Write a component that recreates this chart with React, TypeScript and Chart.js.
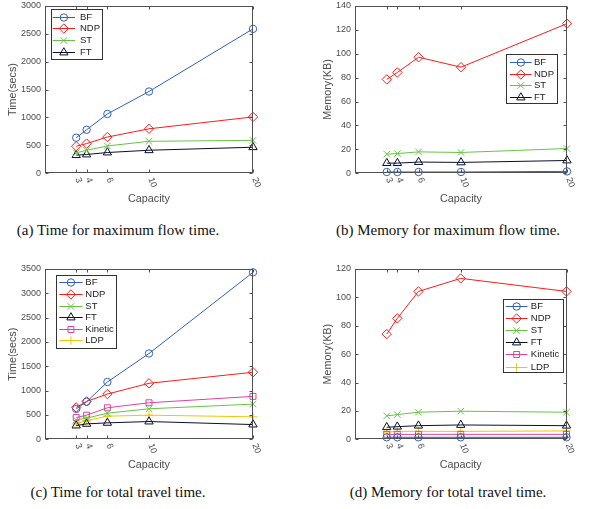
import React, { useEffect, useRef } from 'react';
import { Chart, registerables } from 'chart.js';

Chart.register(...registerables);

// ---------- data ----------
const capacity = [3, 4, 6, 10, 20];
const xTickLabels = ['3', '4', '6', '10', '20'];

// (a) Time for maximum flow time
const aBF = [638, 780, 1063, 1465, 2587];
const aNDP = [484, 532, 650, 797, 1010];
const aST = [366, 413, 490, 573, 590];
const aFT = [325, 337, 372, 413, 467];

// (b) Memory for maximum flow time
const bBF = [1.1, 1.1, 1.1, 1.1, 1.6];
const bNDP = [78.5, 84.3, 97, 88.7, 125.1];
const bST = [16, 16.5, 17.9, 17.4, 20.7];
const bFT = [8.5, 8.5, 9.4, 9.1, 10.7];

// (c) Time for total travel time
const cBF = [625, 772, 1178, 1764, 3431];
const cNDP = [655, 779, 930, 1151, 1378];
const cST = [400, 434, 537, 627, 723];
const cFT = [282, 317, 338, 365, 303];
const cKinetic = [448, 496, 648, 751, 882];
const cLDP = [317, 386, 475, 496, 462];

// (d) Memory for total travel time
const dBF = [1.4, 1.4, 1.4, 1.4, 1.4];
const dNDP = [74.1, 85.2, 104.2, 113.4, 104.2];
const dST = [16.5, 17.4, 19.1, 19.8, 19.1];
const dFT = [8.5, 8.9, 9.6, 10.1, 9.6];
const dKinetic = [3.5, 3.5, 3.5, 3.5, 3.5];
const dLDP = [5.2, 5.6, 5.6, 5.6, 5.9];

const captions = [
  '(a) Time for maximum flow time.',
  '(b) Memory for maximum flow time.',
  '(c) Time for total travel time.',
  '(d) Memory for total travel time.',
];

// ---------- styles ----------
const SANS = '"Liberation Sans", Arial, Helvetica, sans-serif';
const STYLE: Record<string, { color: string; style: string; r: number }> = {
  BF: { color: '#3060C0', style: 'circle', r: 3.7 },
  NDP: { color: '#FF1A1A', style: 'rectRot', r: 4.7 },
  ST: { color: '#66C444', style: 'crossRot', r: 4.6 },
  FT: { color: '#0A0F2D', style: 'triangle', r: 4.8 },
  Kinetic: { color: '#E040A0', style: 'rect', r: 4.2 },
  LDP: { color: '#F5C400', style: 'cross', r: 4.2 },
};
const FRAME = '#505050';
const TEXT = '#4D4D4D';

type Series = { name: string; values: number[] };
type Legend = { x?: number; right?: number; y: number; w: number; h: number; first: number; step: number; lineOff: number; lineLen: number; textOff: number };
type PanelCfg = {
  series: Series[];
  yMax: number;
  yStep: number;
  yTitle: string;
  width: number;
  height: number;
  padTop: number;
  padRight: number;
  yAxisW: number;
  xAxisH: number;
  yTitlePad: number;
  xTitlePad: number;
  legend: Legend;
};

function drawMarker(ctx: CanvasRenderingContext2D, style: string, x: number, y: number, r: number) {
  ctx.beginPath();
  if (style === 'circle') {
    ctx.arc(x, y, r, 0, Math.PI * 2);
  } else if (style === 'rectRot') {
    ctx.moveTo(x, y - r); ctx.lineTo(x + r, y); ctx.lineTo(x, y + r); ctx.lineTo(x - r, y); ctx.closePath();
  } else if (style === 'crossRot') {
    const d = r * Math.SQRT1_2;
    ctx.moveTo(x - d, y - d); ctx.lineTo(x + d, y + d); ctx.moveTo(x + d, y - d); ctx.lineTo(x - d, y + d);
  } else if (style === 'triangle') {
    ctx.moveTo(x, y - r);
    ctx.lineTo(x + r * Math.sin((2 * Math.PI) / 3), y - r * Math.cos((2 * Math.PI) / 3));
    ctx.lineTo(x + r * Math.sin((4 * Math.PI) / 3), y - r * Math.cos((4 * Math.PI) / 3));
    ctx.closePath();
  } else if (style === 'rect') {
    const d = r * Math.SQRT1_2;
    ctx.rect(x - d, y - d, 2 * d, 2 * d);
  } else if (style === 'cross') {
    ctx.moveTo(x, y - r); ctx.lineTo(x, y + r); ctx.moveTo(x - r, y); ctx.lineTo(x + r, y);
  }
  ctx.stroke();
}

function makeDecor(cfg: PanelCfg) {
  return {
    id: 'matlabDecor',
    afterDraw(chart: any) {
      const ctx: CanvasRenderingContext2D = chart.ctx;
      const { left, top, right, bottom } = chart.chartArea;
      const L = Math.round(left) + 0.5, T = Math.round(top) + 0.5, R = Math.round(right) - 0.5, B = Math.round(bottom) - 0.5;
      ctx.save();
      ctx.strokeStyle = FRAME;
      ctx.lineWidth = 1;
      ctx.strokeRect(L, T, R - L, B - T);
      // y ticks (inward, both sides)
      ctx.beginPath();
      for (const t of chart.scales.y.ticks) {
        const py = Math.round(chart.scales.y.getPixelForValue(t.value)) + 0.5;
        ctx.moveTo(L, py); ctx.lineTo(L + 3, py);
        ctx.moveTo(R, py); ctx.lineTo(R - 3, py);
      }
      // x ticks
      for (const v of capacity) {
        const px = Math.round(chart.scales.x.getPixelForValue(v)) + 0.5;
        ctx.moveTo(px, B); ctx.lineTo(px, B - 3);
        ctx.moveTo(px, T); ctx.lineTo(px, T + 3);
      }
      ctx.stroke();
      // rotated x tick labels
      ctx.fillStyle = TEXT;
      ctx.font = `9px ${SANS}`;
      ctx.textAlign = 'left';
      ctx.textBaseline = 'middle';
      capacity.forEach((v, i) => {
        const px = chart.scales.x.getPixelForValue(v);
        ctx.save();
        ctx.translate(px + 1.5, bottom + 4.5);
        ctx.rotate((70 * Math.PI) / 180);
        ctx.fillText(xTickLabels[i], 0, 0);
        ctx.restore();
      });
      // legend
      const lg = cfg.legend;
      const lx = lg.right !== undefined ? right - lg.right - lg.w : left + (lg.x || 0);
      const ly = top + lg.y;
      ctx.fillStyle = '#FFFFFF';
      ctx.fillRect(Math.round(lx) + 0.5, Math.round(ly) + 0.5, Math.round(lg.w), Math.round(lg.h));
      ctx.strokeStyle = '#333333';
      ctx.strokeRect(Math.round(lx) + 0.5, Math.round(ly) + 0.5, Math.round(lg.w), Math.round(lg.h));
      ctx.font = `9.5px ${SANS}`;
      ctx.textBaseline = 'middle';
      cfg.series.forEach((s, i) => {
        const st = STYLE[s.name];
        const yy = Math.round(ly + lg.first + i * lg.step) + 0.5;
        const x1 = lx + lg.lineOff, x2 = x1 + lg.lineLen;
        ctx.strokeStyle = st.color;
        ctx.lineWidth = 1;
        ctx.beginPath();
        ctx.moveTo(x1, yy); ctx.lineTo(x2, yy);
        ctx.stroke();
        drawMarker(ctx, st.style, (x1 + x2) / 2, yy, st.r);
        ctx.fillStyle = '#222222';
        ctx.fillText(s.name, lx + lg.textOff, yy);
      });
      ctx.restore();
    },
  };
}

function Panel({ cfg }: { cfg: PanelCfg }) {
  const ref = useRef<HTMLCanvasElement>(null);
  useEffect(() => {
    if (!ref.current) return;
    const titleFont = { family: SANS, size: 10.8 };
    const chart = new Chart(ref.current, {
      type: 'line',
      data: {
        datasets: cfg.series.map((s) => ({
          label: s.name,
          data: s.values.map((v, i) => ({ x: capacity[i], y: v })),
          borderColor: STYLE[s.name].color,
          backgroundColor: 'rgba(0,0,0,0)',
          pointBackgroundColor: 'rgba(0,0,0,0)',
          pointBorderColor: STYLE[s.name].color,
          pointStyle: STYLE[s.name].style as any,
          pointRadius: STYLE[s.name].r,
          pointBorderWidth: 1,
          borderWidth: 1,
          tension: 0,
          clip: false as any,
        })),
      },
      options: {
        responsive: false,
        animation: false,
        maintainAspectRatio: false,
        events: [],
        layout: { padding: { left: 0, top: cfg.padTop, right: cfg.padRight, bottom: 0 } },
        plugins: { legend: { display: false }, tooltip: { enabled: false } },
        scales: {
          x: {
            type: 'linear',
            min: 0,
            max: 20,
            grid: { display: false, drawTicks: false },
            border: { display: false },
            ticks: { display: false },
            title: { display: true, text: 'Capacity', color: TEXT, font: titleFont, padding: { top: 0, bottom: cfg.xTitlePad } },
            afterFit: (s: any) => { s.height = cfg.xAxisH; s.paddingLeft = 0; s.paddingRight = 0; },
          },
          y: {
            type: 'linear',
            min: 0,
            max: cfg.yMax,
            grid: { display: false, drawTicks: false },
            border: { display: false },
            ticks: {
              stepSize: cfg.yStep,
              color: TEXT,
              font: { family: SANS, size: 9 },
              padding: 4,
              callback: (v: any) => String(v),
            },
            title: { display: true, text: cfg.yTitle, color: TEXT, font: titleFont, padding: { top: cfg.yTitlePad, bottom: 0 } },
            afterFit: (s: any) => { s.width = cfg.yAxisW; s.paddingTop = 0; s.paddingBottom = 0; },
          },
        },
      },
      plugins: [makeDecor(cfg)],
    } as any);
    return () => chart.destroy();
  }, [cfg]);
  return <canvas ref={ref} width={cfg.width} height={cfg.height} style={{ width: cfg.width, height: cfg.height, display: 'block' }} />;
}

const panelA: PanelCfg = {
  series: [
    { name: 'BF', values: aBF }, { name: 'NDP', values: aNDP }, { name: 'ST', values: aST }, { name: 'FT', values: aFT },
  ],
  yMax: 3000, yStep: 500, yTitle: 'Time(secs)',
  width: 297, height: 210, padTop: 4, padRight: 44, yAxisW: 45, xAxisH: 36.7, yTitlePad: 6.8, xTitlePad: 4.2,
  legend: { x: 5.7, y: 3.3, w: 51, h: 50, first: 7.7, step: 11.6, lineOff: 2, lineLen: 22.3, textOff: 29.3 },
};
const panelB: PanelCfg = {
  series: [
    { name: 'BF', values: bBF }, { name: 'NDP', values: bNDP }, { name: 'ST', values: bST }, { name: 'FT', values: bFT },
  ],
  yMax: 140, yStep: 20, yTitle: 'Memory(KB)',
  width: 297, height: 210, padTop: 4, padRight: 27, yAxisW: 58, xAxisH: 36.7, yTitlePad: 24.2, xTitlePad: 4.2,
  legend: { right: 10, y: 48.3, w: 51, h: 49.4, first: 8.2, step: 11.5, lineOff: 4, lineLen: 21.7, textOff: 28 },
};
const panelC: PanelCfg = {
  series: [
    { name: 'BF', values: cBF }, { name: 'NDP', values: cNDP }, { name: 'ST', values: cST },
    { name: 'FT', values: cFT }, { name: 'Kinetic', values: cKinetic }, { name: 'LDP', values: cLDP },
  ],
  yMax: 3500, yStep: 500, yTitle: 'Time(secs)',
  width: 297, height: 230, padTop: 19, padRight: 44, yAxisW: 45, xAxisH: 40.7, yTitlePad: 6.8, xTitlePad: 8,
  legend: { x: 11, y: 6, w: 60, h: 73.3, first: 7.3, step: 11.6, lineOff: 3.3, lineLen: 23.3, textOff: 29.3 },
};
const panelD: PanelCfg = {
  series: [
    { name: 'BF', values: dBF }, { name: 'NDP', values: dNDP }, { name: 'ST', values: dST },
    { name: 'FT', values: dFT }, { name: 'Kinetic', values: dKinetic }, { name: 'LDP', values: dLDP },
  ],
  yMax: 120, yStep: 20, yTitle: 'Memory(KB)',
  width: 297, height: 230, padTop: 19, padRight: 27.5, yAxisW: 58, xAxisH: 40.7, yTitlePad: 24.2, xTitlePad: 8,
  legend: { right: 4, y: 30.3, w: 60, h: 73, first: 6.7, step: 12.1, lineOff: 3.3, lineLen: 21.7, textOff: 28.3 },
};

const captionStyle: React.CSSProperties = {
  position: 'absolute',
  width: 300,
  textAlign: 'center',
  fontFamily: '"Liberation Serif", "Times New Roman", serif',
  fontSize: 15,
  color: '#111',
  whiteSpace: 'nowrap',
};

export default function App() {
  return (
    <div style={{ position: 'absolute', left: 0, top: 0, width: 594, height: 509, background: '#fff', overflow: 'hidden' }}>
      <div style={{ position: 'absolute', left: 0, top: 0 }}><Panel cfg={panelA} /></div>
      <div style={{ position: 'absolute', left: 297, top: 0 }}><Panel cfg={panelB} /></div>
      <div style={{ position: 'absolute', left: 0, top: 250 }}><Panel cfg={panelC} /></div>
      <div style={{ position: 'absolute', left: 297, top: 250 }}><Panel cfg={panelD} /></div>
      <div style={{ ...captionStyle, left: 118 - 150, top: 220, lineHeight: '20px' }}>{captions[0]}</div>
      <div style={{ ...captionStyle, left: 448 - 150, top: 220, lineHeight: '20px' }}>{captions[1]}</div>
      <div style={{ position: 'absolute', left: 0, top: 470, width: 594, height: 39, background: '#fff' }} />
      <div style={{ ...captionStyle, left: 118 - 150, top: 482, lineHeight: '20px' }}>{captions[2]}</div>
      <div style={{ ...captionStyle, left: 448 - 150, top: 482, lineHeight: '20px' }}>{captions[3]}</div>
    </div>
  );
}
